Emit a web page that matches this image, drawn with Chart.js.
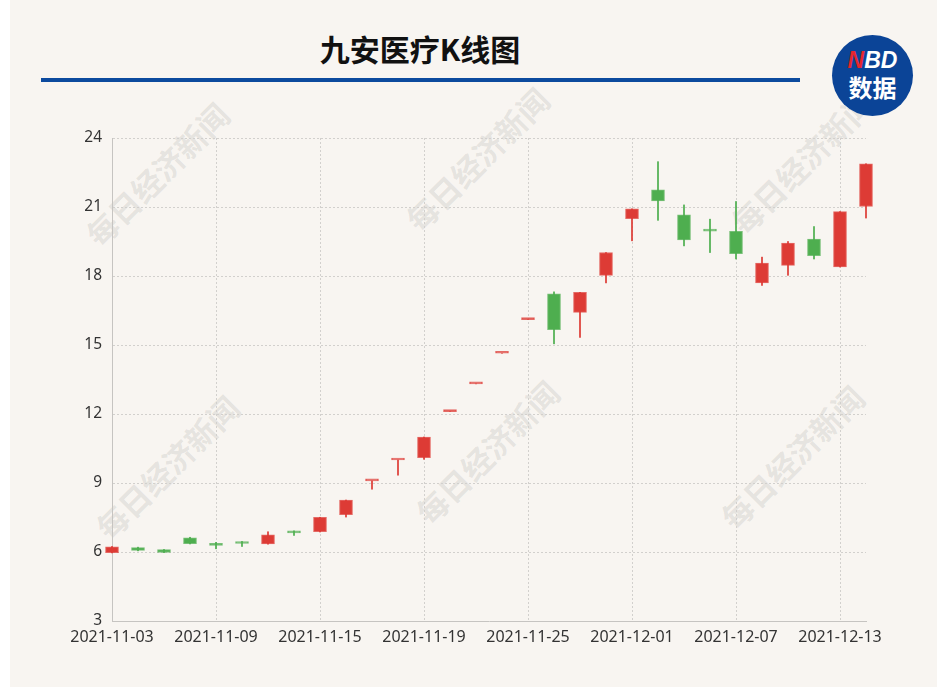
<!DOCTYPE html>
<html>
<head>
<meta charset="utf-8">
<script src="https://cdn.jsdelivr.net/npm/chart.js@4.4.1/dist/chart.umd.min.js"></script>
<style>
html,body{margin:0;padding:0;background:#ffffff;width:937px;height:687px;overflow:hidden;}
#panel{position:absolute;left:10px;top:0;width:927px;height:687px;background:#f8f5f1;}
.wm{position:absolute;width:240px;height:40px;line-height:40px;text-align:center;font:bold 31px "Noto Sans CJK SC";color:rgba(110,110,110,0.15);transform:rotate(-45deg);white-space:nowrap;}
#title{position:absolute;left:0;top:26px;width:840px;text-align:center;font:bold 30px "Noto Sans CJK SC";color:#111;line-height:44px;}
#bar{position:absolute;left:41px;top:78px;width:759px;height:4px;background:#0c4a9e;}
#logo{position:absolute;left:832px;top:35px;width:81px;height:81px;border-radius:50%;background:#0b4497;}
#logo .nbd{position:absolute;left:0;top:13px;width:81px;text-align:center;font:italic bold 23px "Liberation Sans";color:#fff;line-height:24px;}
#logo .nbd span{color:#e5262d;}
#logo .sj{position:absolute;left:0;top:38px;width:81px;text-align:center;font:bold 24px "Noto Sans CJK SC";color:#fff;line-height:28px;}
canvas{position:absolute;left:0;top:0;}
</style>
</head>
<body>
<div id="panel"></div>
<div class="wm" style="left:35px;top:152px;">每日经济新闻</div>
<div class="wm" style="left:355px;top:137px;">每日经济新闻</div>
<div class="wm" style="left:680px;top:140px;">每日经济新闻</div>
<div class="wm" style="left:45px;top:445px;">每日经济新闻</div>
<div class="wm" style="left:365px;top:430px;">每日经济新闻</div>
<div class="wm" style="left:670px;top:435px;">每日经济新闻</div>
<div id="title">九安医疗K线图</div>
<div id="bar"></div>
<div id="logo"><div class="nbd"><span>N</span>BD</div><div class="sj">数据</div></div>
<canvas id="c" width="937" height="687"></canvas>
<script>
// ---- data ----
const dates = ['2021-11-03','2021-11-04','2021-11-05','2021-11-08','2021-11-09','2021-11-10','2021-11-11','2021-11-12',
  '2021-11-15','2021-11-16','2021-11-17','2021-11-18','2021-11-19','2021-11-22','2021-11-23','2021-11-24','2021-11-25',
  '2021-11-26','2021-11-29','2021-11-30','2021-12-01','2021-12-02','2021-12-03','2021-12-06','2021-12-07','2021-12-08',
  '2021-12-09','2021-12-10','2021-12-13','2021-12-14'];
const openPrices  = [5.97, 6.19, 6.10, 6.62, 6.33, 6.41, 6.35, 6.90, 6.88, 7.62, 9.09, 10.00, 10.10, 12.10, 13.31, 14.64, 16.10,
  17.23, 16.42, 18.03, 20.49, 21.75, 20.66, 20.00, 19.94, 17.70, 18.46, 19.61, 18.39, 21.02];
const closePrices = [6.22, 6.07, 5.98, 6.36, 6.29, 6.37, 6.75, 6.83, 7.51, 8.26, 9.09, 10.00, 11.00, 12.10, 13.31, 14.64, 16.10,
  15.67, 17.29, 19.02, 20.92, 21.26, 19.57, 19.95, 18.97, 18.56, 19.43, 18.88, 20.80, 22.88];
const highPrices  = [6.24, 6.21, 6.11, 6.64, 6.42, 6.46, 6.88, 6.92, 7.51, 8.26, 9.09, 10.00, 11.00, 12.10, 13.31, 14.64, 16.10,
  17.31, 17.29, 19.02, 20.92, 22.97, 21.09, 20.47, 21.24, 18.82, 19.50, 20.15, 20.80, 22.88];
const lowPrices   = [5.96, 6.05, 5.97, 6.35, 6.14, 6.24, 6.34, 6.72, 6.87, 7.52, 8.73, 9.34, 10.03, 12.10, 13.31, 14.64, 16.10,
  15.05, 15.33, 17.70, 19.53, 20.42, 19.31, 19.02, 18.74, 17.59, 18.03, 18.74, 18.39, 20.52];
const yMin = 3, yMax = 24, yStep = 3;
const labelEvery = 4;

const RED = '#dd3b35', GREEN = '#4eae4f';
const RED_B = 'rgba(221,59,53,0.75)', GREEN_B = 'rgba(78,174,79,0.75)';
const isUp = closePrices.map((c, i) => c > openPrices[i] || (c === openPrices[i] && (i === 0 || c >= closePrices[i - 1])));

const bodyData = dates.map((d, i) => [openPrices[i], closePrices[i]]);
const wickData = dates.map((d, i) => [lowPrices[i], highPrices[i]]);

const GRID = '#d2d0cd';
const AXIS = '#c6c4c1';
const NONE = 'rgba(0,0,0,0)';

function xGridColor(ctx) {
  const v = ctx.tick ? ctx.tick.value : ctx.index;
  return (v % labelEvery === 0 && v !== 0) ? GRID : NONE;
}

new Chart(document.getElementById('c'), {
  type: 'bar',
  data: {
    labels: dates,
    datasets: [
      {
        label: 'body',
        data: bodyData,
        backgroundColor: isUp.map(u => u ? RED : GREEN),
        borderColor: isUp.map(u => u ? RED_B : GREEN_B),
        borderWidth: 1,
        borderSkipped: false,
        barThickness: 13,
        minBarLength: 2,
        grouped: false,
        clip: false,
        order: 0
      },
      {
        label: 'wick',
        data: wickData,
        backgroundColor: isUp.map(u => u ? 'rgba(221,59,53,0.85)' : 'rgba(78,174,79,0.85)'),
        borderWidth: 0,
        barThickness: 1.4,
        grouped: false,
        clip: false,
        order: 1
      }
    ]
  },
  options: {
    responsive: false,
    animation: false,
    events: [],
    layout: { padding: { left: 60, right: 71, top: 138, bottom: 26 } },
    plugins: { legend: { display: false }, tooltip: { enabled: false }, title: { display: false } },
    scales: {
      x: {
        type: 'category',
        offset: false,
        afterFit: s => { s.height = 40; },
        grid: {
          offset: false,
          drawTicks: false,
          lineWidth: 1,
          color: xGridColor
        },
        border: { display: true, color: AXIS, width: 1, dash: [2, 2] },
        ticks: {
          autoSkip: false,
          maxRotation: 0,
          minRotation: 0,
          padding: 7,
          color: '#333',
          font: { family: 'Noto Sans', size: 16 },
          callback: function (v, i) { return i % labelEvery === 0 ? this.getLabelForValue(v) : ''; }
        }
      },
      y: {
        min: yMin,
        max: yMax,
        afterFit: s => { s.width = 52; },
        grid: {
          drawTicks: false,
          lineWidth: 1,
          color: ctx => (ctx.tick && ctx.tick.value === yMin) ? NONE : GRID
        },
        border: { display: true, color: AXIS, width: 1, dash: [2, 2] },
        ticks: {
          stepSize: yStep,
          padding: 10,
          color: '#333',
          font: { family: 'Noto Sans', size: 15.5 }
        }
      }
    }
  }
});
</script>
</body>
</html>
